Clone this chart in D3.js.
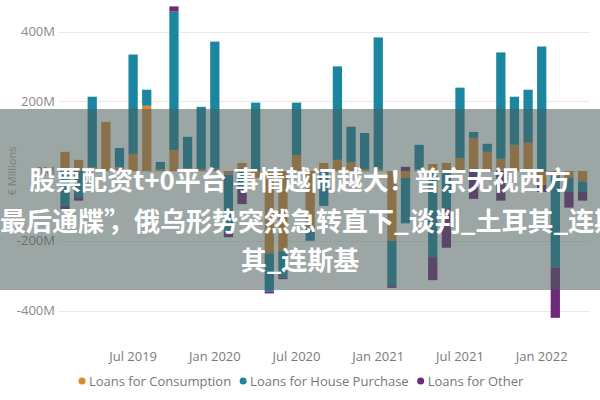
<!DOCTYPE html>
<html>
<head>
<meta charset="utf-8">
<script src="https://cdn.jsdelivr.net/npm/d3@7"></script>
<style>
  html, body { margin: 0; padding: 0; background: #ffffff; }
  svg { display: block; }
</style>
</head>
<body>
<script>
// ---- data (values in € millions) ----
const months = [
  "2019-02","2019-03","2019-04","2019-05","2019-06","2019-07","2019-08","2019-09","2019-10","2019-11","2019-12",
  "2020-01","2020-02","2020-03","2020-04","2020-05","2020-06","2020-07","2020-08","2020-09","2020-10","2020-11","2020-12",
  "2021-01","2021-02","2021-03","2021-04","2021-05","2021-06","2021-07","2021-08","2021-09","2021-10","2021-11","2021-12",
  "2022-01","2022-02","2022-03","2022-04"
];
const consumption = [55, 32, 10, 141, 10, 49, 187, 5, 60, 8, 5,
  6, -10, 23, -20, -236, -230, 46, -160, 23, 32, 26, 5,
  5, -200, -20, 5, 20, 23, 37, 95, 55, 35, 75, 81,
  -40, -15, -20, -30];
const housePurchase = [-100, -75, 203, 0, 56, 285, 46, 21, 397, 90, 179,
  365, -165, -45, 196, -109, -75, 150, -40, -100, 268, 101, 104,
  378, -130, -130, 70, -247, -110, 202, 17, 23, 305, 138, 152,
  357, -261, -40, -30];
const other = [-10, -10, 0, 0, 0, 0, 0, 0, 15, 0, 0,
  0, -15, -50, 0, -6, -5, 0, 0, 0, 0, 0, 0,
  0, -5, 12, 0, -66, -110, 0, -80, 0, -85, 0, 0,
  -20, -145, -45, -25];

const seriesNames = ["Loans for Consumption", "Loans for House Purchase", "Loans for Other"];
const seriesColors = ["#d98a35", "#1b86a0", "#6e2a78"];
const yTicks = [-400, -200, 0, 200, 400];
const tickMonths = ["2019-07","2020-01","2020-07","2021-01","2021-07","2022-01"];
const tickLabels = ["Jul 2019","Jan 2020","Jul 2020","Jan 2021","Jul 2021","Jan 2022"];
const yAxisTitle = "€ Millions";
const bannerLines = ["股票配资t+0平台 事情越闹越大！普京无视西方", "“最后通牒”", "，俄乌形势突然急转直下_谈判_土耳其_连斯基", "其_连斯基"];

// ---- build table ----
const keys = ["c", "h", "o"];
const table = months.map((m, i) => ({ month: m, c: consumption[i], h: housePurchase[i], o: other[i] }));

const W = 600, H = 400;
const svg = d3.select("body").append("svg").attr("width", W).attr("height", H)
  .style("font-family", "'Open Sans', 'Segoe UI', sans-serif");

const step = 13.62;
const x0 = 65 - step / 2;
const x = d3.scaleBand().domain(months).range([x0, x0 + step * months.length]).paddingInner(0.32).paddingOuter(0.16);
const y = d3.scaleLinear().domain([-400, 400]).range([310.5, 31.5]);

// gridlines
svg.append("g").selectAll("line").data(yTicks).join("line")
  .attr("x1", 58).attr("x2", 590)
  .attr("y1", d => Math.round(y(d)) + 0.5).attr("y2", d => Math.round(y(d)) + 0.5)
  .attr("stroke", "#e9e9e9").attr("stroke-width", 1);

// y labels
svg.append("g").selectAll("text").data(yTicks).join("text")
  .attr("x", 55).attr("y", d => y(d)).attr("dy", "0.35em")
  .attr("text-anchor", "end").attr("font-size", 13).attr("fill", "#8a8a8a")
  .text(d => d + "M");

// y axis title
svg.append("text").attr("transform", `translate(12,${y(0)}) rotate(-90)`)
  .attr("text-anchor", "middle").attr("dy", "0.35em")
  .attr("font-size", 11).attr("fill", "#a8a8a8").text(yAxisTitle);

// stacked bars
const stack = d3.stack().keys(keys).offset(d3.stackOffsetDiverging);
const layers = stack(table);
svg.append("g").selectAll("g").data(layers).join("g")
  .attr("fill", (d, i) => seriesColors[i])
  .selectAll("rect").data(d => d).join("rect")
  .attr("x", d => x(d.data.month))
  .attr("width", x.bandwidth())
  .attr("y", d => y(Math.max(d[0], d[1])))
  .attr("height", d => Math.abs(y(d[0]) - y(d[1])));

// x axis
const xAxis = d3.axisBottom(x).tickValues(tickMonths)
  .tickFormat(d => tickLabels[tickMonths.indexOf(d)]).tickSize(0).tickPadding(0);
const gx = svg.append("g").attr("transform", "translate(0,352)").call(xAxis);
gx.select(".domain").remove();
gx.selectAll("text").attr("font-size", 13).attr("fill", "#7a7a7a")
  .style("font-family", "'Open Sans', 'Segoe UI', sans-serif");

// legend
const lg = svg.append("g").attr("transform", "translate(0,381)");
let lx = 82;
seriesNames.forEach((name, i) => {
  lg.append("circle").attr("cx", lx).attr("cy", 0).attr("r", 3.5).attr("fill", seriesColors[i]);
  const t = lg.append("text").attr("x", lx + 7).attr("y", 0).attr("dy", "0.35em")
    .attr("font-size", 13).attr("fill", "#777").text(name);
  lx += 7 + t.node().getComputedTextLength() + 12;
});

// overlay banner
svg.append("rect").attr("x", 0).attr("y", 109).attr("width", W).attr("height", 181)
  .attr("fill", "#4a5c5a").attr("fill-opacity", 0.55);
const bf = { "font-family": "'Noto Sans CJK SC', sans-serif", "font-weight": 700, "font-size": 26, "fill": "#ffffff" };
function styl(sel) { Object.entries(bf).forEach(([k, v]) => sel.attr(k, v)); return sel; }
styl(svg.append("text").attr("x", 300).attr("y", 190).attr("text-anchor", "middle")).text(bannerLines[0]);
const l2 = styl(svg.append("text").attr("y", 231));
l2.append("tspan").attr("x", -26).text(bannerLines[1]);
l2.append("tspan").attr("x", 108).text(bannerLines[2]);
styl(svg.append("text").attr("x", 300).attr("y", 270).attr("text-anchor", "middle")).text(bannerLines[3]);
</script>
</body>
</html>
